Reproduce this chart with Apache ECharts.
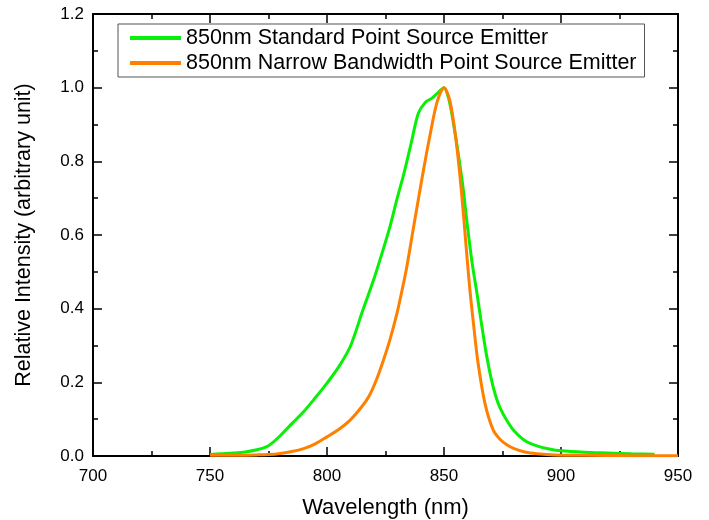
<!DOCTYPE html>
<html>
<head>
<meta charset="utf-8">
<script src="https://cdn.jsdelivr.net/npm/echarts@6/dist/echarts.min.js"></script>
<style>html,body{margin:0;padding:0;background:#fff}#c{width:709px;height:520px}</style>
</head>
<body>
<div id="c"></div>
<script>
const seriesNames = ['850nm Standard Point Source Emitter', '850nm Narrow Bandwidth Point Source Emitter'];
const xTicks = [700, 750, 800, 850, 900, 950];
const yTicks = [0.0, 0.2, 0.4, 0.6, 0.8, 1.0, 1.2];

const stdWavelength = [750, 755, 760, 765, 770, 775, 780, 785, 790, 795, 800, 805, 810, 815, 820, 823, 827, 830, 833, 836, 839, 842, 845, 848, 850, 852, 854, 856, 858, 860, 862, 864, 866, 868, 870, 872, 874, 877, 880, 885, 890, 895, 900, 910, 920, 930, 940];
const stdIntensity = [0.004, 0.006, 0.008, 0.011, 0.017, 0.028, 0.055, 0.088, 0.12, 0.158, 0.198, 0.242, 0.298, 0.39, 0.48, 0.54, 0.625, 0.70, 0.77, 0.85, 0.93, 0.96, 0.972, 0.99, 1.0, 0.97, 0.905, 0.825, 0.735, 0.625, 0.525, 0.445, 0.36, 0.28, 0.215, 0.165, 0.13, 0.095, 0.068, 0.040, 0.027, 0.019, 0.014, 0.010, 0.008, 0.006, 0.005];

const narrowWavelength = [750, 760, 770, 775, 780, 785, 790, 795, 800, 805, 810, 815, 818, 821, 824, 827, 830, 832, 834, 837.5, 841, 844, 847, 850, 852.5, 855, 857.5, 859.5, 861, 862.5, 864.5, 867.5, 871, 874, 877, 880, 885, 890, 897, 910, 930, 950];
const narrowIntensity = [0.002, 0.002, 0.003, 0.004, 0.007, 0.012, 0.02, 0.033, 0.052, 0.072, 0.098, 0.135, 0.163, 0.205, 0.258, 0.318, 0.39, 0.448, 0.51, 0.64, 0.768, 0.87, 0.96, 1.0, 0.965, 0.865, 0.715, 0.565, 0.455, 0.365, 0.255, 0.143, 0.071, 0.045, 0.03, 0.02, 0.01, 0.006, 0.003, 0.002, 0.001, 0.001];

const zip = (xs, ys) => xs.map((x, i) => [x, ys[i]]);
const font = 'Liberation Sans, Arial, sans-serif';

const baseX = {
  type: 'value', min: xTicks[0], max: xTicks[xTicks.length - 1], interval: xTicks[1] - xTicks[0],
  axisLine: { show: true, onZero: false, lineStyle: { color: '#000', width: 2 } },
  axisTick: { show: true, inside: true, length: 9, lineStyle: { color: '#000', width: 1.5 } },
  minorTick: { show: true, splitNumber: 2, length: 5, lineStyle: { color: '#000', width: 1.5 } },
  splitLine: { show: false }
};
const baseY = {
  type: 'value', min: yTicks[0], max: yTicks[yTicks.length - 1], interval: yTicks[1] - yTicks[0],
  axisLine: { show: true, onZero: false, lineStyle: { color: '#000', width: 2 } },
  axisTick: { show: true, inside: true, length: 9, lineStyle: { color: '#000', width: 1.5 } },
  minorTick: { show: true, splitNumber: 2, length: 5, lineStyle: { color: '#000', width: 1.5 } },
  splitLine: { show: false }
};

const chart = echarts.init(document.getElementById('c'), null, { renderer: 'canvas' });
chart.setOption({
  animation: false,
  backgroundColor: '#fff',
  grid: { left: 93, right: 31, top: 14, bottom: 64, containLabel: false, outerBoundsMode: 'none' },
  legend: {
    data: seriesNames,
    orient: 'vertical',
    left: 118, top: 24,
    padding: [3, 8, 3, 12],
    itemGap: 3,
    itemWidth: 51, itemHeight: 4,
    icon: 'rect',
    borderColor: '#555', borderWidth: 1,
    textStyle: { fontFamily: font, fontSize: 21.5, color: '#000' }
  },
  xAxis: [
    Object.assign({}, baseX, {
      position: 'bottom',
      name: 'Wavelength (nm)', nameLocation: 'middle', nameGap: 41,
      nameTextStyle: { fontFamily: font, fontSize: 22, color: '#000' },
      axisLabel: { show: true, margin: 12, fontFamily: font, fontSize: 17, color: '#000',
        formatter: v => String(v) }
    }),
    Object.assign({}, baseX, { position: 'top', axisLabel: { show: false } })
  ],
  yAxis: [
    Object.assign({}, baseY, {
      position: 'left',
      name: 'Relative Intensity (arbitrary unit)', nameLocation: 'middle', nameGap: 58,
      nameTextStyle: { fontFamily: font, fontSize: 21.5, color: '#000' },
      axisLabel: { show: true, margin: 9, fontFamily: font, fontSize: 17, color: '#000',
        formatter: v => v.toFixed(1) }
    }),
    Object.assign({}, baseY, { position: 'right', axisLabel: { show: false } })
  ],
  series: [
    {
      name: seriesNames[0], type: 'line', xAxisIndex: 0, yAxisIndex: 0,
      data: zip(stdWavelength, stdIntensity), smooth: 0.3, showSymbol: false, symbol: 'none',
      lineStyle: { color: '#08f008', width: 3 }, itemStyle: { color: '#08f008' }, z: 2
    },
    {
      name: seriesNames[1], type: 'line', xAxisIndex: 0, yAxisIndex: 0,
      data: zip(narrowWavelength, narrowIntensity), smooth: 0.3, showSymbol: false, symbol: 'none',
      lineStyle: { color: '#ff8000', width: 3 }, itemStyle: { color: '#ff8000' }, z: 3
    }
  ]
});
</script>
</body>
</html>
